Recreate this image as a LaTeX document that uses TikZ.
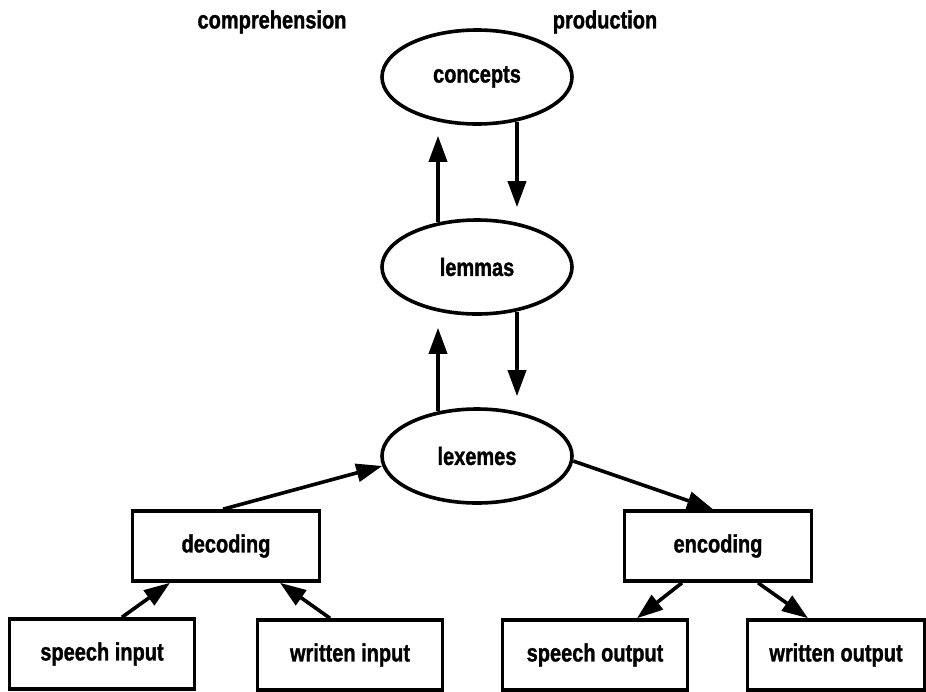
\documentclass[tikz,border=0pt]{standalone}
\usepackage{fontspec}
\newfontfamily\figfont{Liberation Sans}[FakeStretch=0.8,BoldFeatures={FakeBold=1.2}]
\usepackage{tikz}
\usetikzlibrary{positioning,shapes,arrows.meta,calc}

\begin{document}
\begin{tikzpicture}[x=0.5pt,y=-0.5pt,
    font=\figfont\bfseries\fontsize{12.5}{15}\selectfont,
    level/.style={ellipse,draw,line width=1.8pt,minimum width=95pt,minimum height=47pt,inner sep=0pt},
    stage/.style={rectangle,draw,line width=1.8pt,minimum width=93.5pt,minimum height=35pt,inner sep=0pt},
    arr/.style={line width=1.8pt,-{Triangle[length=13pt,width=9pt]}}]
    \useasboundingbox (0,0) rectangle (926,691);
    \node (comp) at (272,22) {comprehension};
    \node (prod) at (605,22) {production};
    \node[level] (concepts) at (477,77) {concepts};
    \node[level] (lemmas) at (477,267) {lemmas};
    \node[level] (lexemes) at (477,456) {lexemes};
    \node[stage] (decoding) at (226,546) {decoding};
    \node[stage] (encoding) at (718,546) {encoding};
    \node[stage,minimum width=92.5pt] (speechin) at (102,654) {speech input};
    \node[stage,minimum width=92.5pt] (writtenin) at (350,655) {written input};
    \node[stage,minimum width=92.5pt] (speechout) at (595,655) {speech output};
    \node[stage,minimum width=88.5pt] (writtenout) at (836,655) {written output};
    \draw[arr] ($(lemmas.north)+(-39,4)$) -- ($(concepts.south)+(-39,10)$);
    \draw[arr] ($(concepts.south)+(40,-4)$) -- ($(lemmas.north)+(40,-11)$);
    \draw[arr] ($(lexemes.north)+(-39,4)$) -- ($(lemmas.south)+(-39,12)$);
    \draw[arr] ($(lemmas.south)+(40,-4)$) -- ($(lexemes.north)+(40,-11)$);
    \draw[arr] ($(decoding.north)+(-3,0)$) -- (lexemes.186);
    \draw[arr] (lexemes.-3) -- ($(encoding.north)+(-5,0)$);
    \draw[arr] ($(speechin.north)+(20,0)$) -- ($(decoding.south)+(-56,0)$);
    \draw[arr] ($(writtenin.north)+(-20,0)$) -- ($(decoding.south)+(54,0)$);
    \draw[arr] ($(encoding.south)+(-36,0)$) -- ($(speechout.north)+(42,0)$);
    \draw[arr] ($(encoding.south)+(40,0)$) -- ($(writtenout.north)+(-28,0)$);
\end{tikzpicture}
\end{document}
